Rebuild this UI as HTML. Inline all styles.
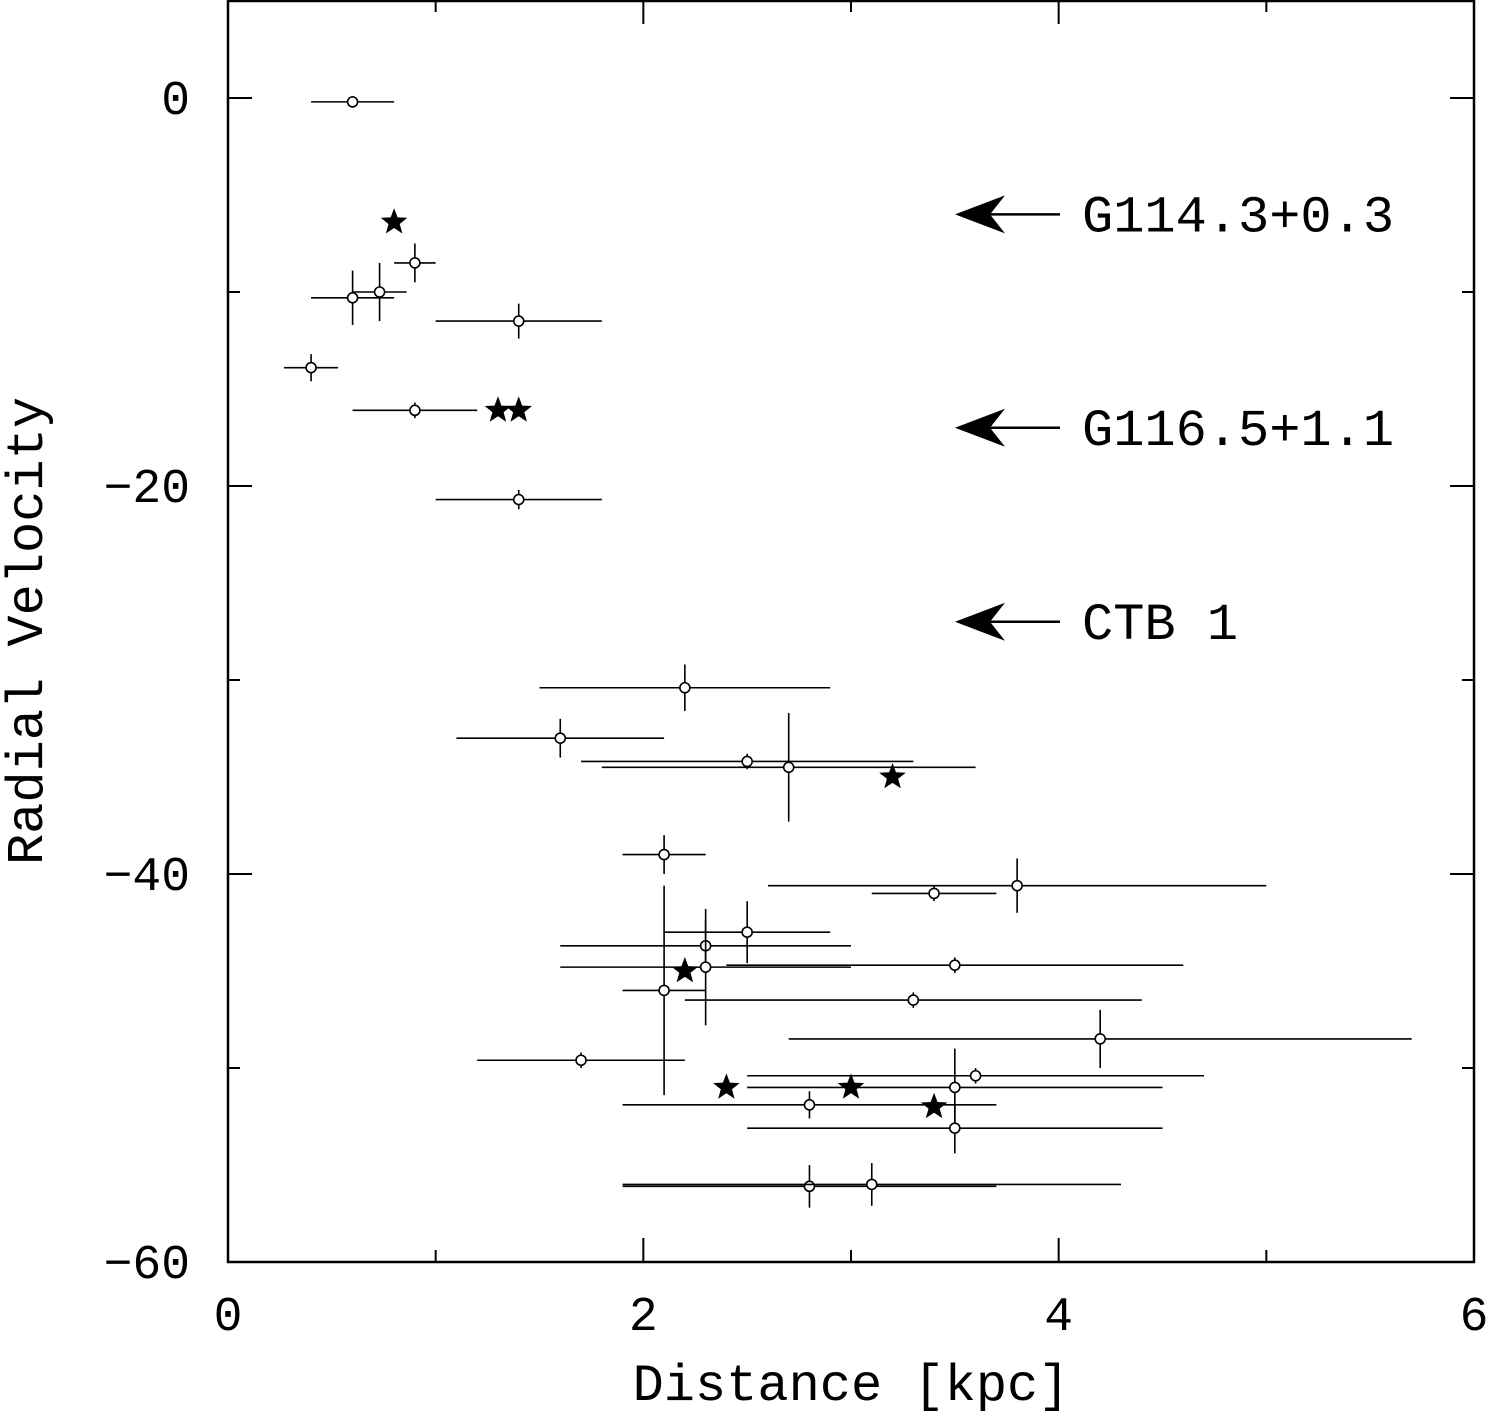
<!DOCTYPE html>
<html><head><meta charset="utf-8"><style>
html,body{margin:0;padding:0;background:#fff}
svg text{font-family:"Liberation Mono","DejaVu Sans Mono",monospace;fill:#000}
</style></head><body>
<svg id="chart" width="1488" height="1412" xmlns="http://www.w3.org/2000/svg">
<g id="axes"></g>
<g id="marks"></g>
<g id="annot"></g>
</svg>
<script>
const ptX=[0.6,0.9,0.6,0.73,1.4,0.4,0.9,1.4,2.2,1.6,2.5,2.7,2.1,3.4,3.8,2.5,2.3,2.3,3.5,2.1,3.3,4.2,1.7,3.6,3.5,2.8,3.5,2.8,3.1];
const ptY=[-0.2,-8.5,-10.3,-10,-11.5,-13.9,-16.1,-20.7,-30.4,-33,-34.2,-34.5,-39,-41,-40.6,-43,-43.7,-44.8,-44.7,-46,-46.5,-48.5,-49.6,-50.4,-51,-51.9,-53.1,-56.1,-56];
const ptXErr=[0.2,0.1,0.2,0.13,0.4,0.13,0.3,0.4,0.7,0.5,0.8,0.9,0.2,0.3,1.2,0.4,0.7,0.7,1.1,0.2,1.1,1.5,0.5,1.1,1,0.9,1,0.9,1.2];
const ptYErr=[0.3,1,1.4,1.5,0.9,0.7,0.4,0.5,1.2,1,0.4,2.8,1,0.4,1.4,1.6,1.3,3,0.4,5.4,0.4,1.5,0.4,0.4,2,0.7,1.3,1.1,1.1];
const starX=[0.8,1.3,1.4,3.2,2.2,2.4,3.0,3.4];
const starY=[-6.4,-16.1,-16.1,-35,-45,-51,-51,-52];
const snrNames=["G114.3+0.3","G116.5+1.1","CTB 1"];
const snrVel=[-6.0,-17,-27];
const xTicks=[0,2,4,6], xMinor=[1,3,5];
const yTicks=[0,-20,-40,-60], yMinor=[-10,-30,-50];
const NS="http://www.w3.org/2000/svg";
const L=228,R=1474,T=0,B=1262;
const sx=v=>L+(v-0)*(R-L)/6;
const sy=v=>98+(0-v)*19.4;
function mk(tag,attrs,parent){const e=document.createElementNS(NS,tag);for(const k in attrs)e.setAttribute(k,attrs[k]);parent.appendChild(e);return e;}
const axes=document.getElementById('axes'),marks=document.getElementById('marks'),annot=document.getElementById('annot');
let fr=mk('rect',{x:L,y:T+1,width:R-L,height:B-T-1,fill:'none',stroke:'#000','stroke-width':2.5},axes);


xTicks.forEach(v=>{
 let t=mk('line',{x1:sx(v),x2:sx(v),y1:B,y2:B-24,stroke:'#000','stroke-width':2},axes);
 
 
 let t2=mk('line',{x1:sx(v),x2:sx(v),y1:T,y2:T+24,stroke:'#000','stroke-width':2},axes);
 
 
 let lb=mk('text',{x:sx(v),y:1330,'font-size':48,'text-anchor':'middle'},axes);lb.textContent=v;
 
 
});
xMinor.forEach(v=>{
 let t=mk('line',{x1:sx(v),x2:sx(v),y1:B,y2:B-12,stroke:'#000','stroke-width':2},axes);
 
 
 let t2=mk('line',{x1:sx(v),x2:sx(v),y1:T,y2:T+12,stroke:'#000','stroke-width':2},axes);
 
 
});
yTicks.forEach(v=>{
 let t=mk('line',{x1:L,x2:L+24,y1:sy(v),y2:sy(v),stroke:'#000','stroke-width':2},axes);
 
 
 let t2=mk('line',{x1:R,x2:R-24,y1:sy(v),y2:sy(v),stroke:'#000','stroke-width':2},axes);
 
 
 let lb=mk('text',{x:190,y:sy(v)+16,'font-size':48,'text-anchor':'end'},axes);lb.textContent=v===0?'0':'\u2212'+Math.abs(v);
 
 
});
yMinor.forEach(v=>{
 let t=mk('line',{x1:L,x2:L+12,y1:sy(v),y2:sy(v),stroke:'#000','stroke-width':2},axes);
 
 
 let t2=mk('line',{x1:R,x2:R-12,y1:sy(v),y2:sy(v),stroke:'#000','stroke-width':2},axes);
 
 
});
let xt=mk('text',{x:851,y:1400,'font-size':52,'text-anchor':'middle'},axes);xt.textContent='Distance [kpc]';


let yt=mk('text',{x:0,y:0,'font-size':52,'text-anchor':'middle',transform:'translate(42,631) rotate(-90)'},axes);yt.textContent='Radial Velocity';


ptX.forEach((x,i)=>{
 const g=mk('g',{},marks);
 
 
 mk('line',{x1:sx(x-ptXErr[i]),x2:sx(x+ptXErr[i]),y1:sy(ptY[i]),y2:sy(ptY[i]),stroke:'#000','stroke-width':1.6},g);
 mk('line',{x1:sx(x),x2:sx(x),y1:sy(ptY[i]-ptYErr[i]),y2:sy(ptY[i]+ptYErr[i]),stroke:'#000','stroke-width':1.6},g);
 mk('circle',{cx:sx(x),cy:sy(ptY[i]),r:5,fill:'#fff',stroke:'#000','stroke-width':1.6},g);
});
function starPts(cx,cy,r){let p=[];for(let k=0;k<10;k++){const a=-Math.PI/2+k*Math.PI/5;const rr=k%2?r*0.42:r;p.push((cx+rr*Math.cos(a)).toFixed(1)+','+(cy+rr*Math.sin(a)).toFixed(1));}return p.join(' ');}
starX.forEach((x,i)=>{
 const s=mk('polygon',{points:starPts(sx(x),sy(starY[i]),14),fill:'#000'},marks);
 
 
});
snrNames.forEach((n,i)=>{
 const y=sy(snrVel[i]);
 const g=mk('g',{},annot);
 
 
 mk('line',{x1:990,x2:1060,y1:y,y2:y,stroke:'#000','stroke-width':2.5},g);
 mk('polygon',{points:`955,${y} 1005,${y-19} 990,${y} 1005,${y+19}`,fill:'#000'},g);
 const t=mk('text',{x:1082,y:y+17,'font-size':52},g);t.textContent=n;
 
 
});
</script>
</body></html>
